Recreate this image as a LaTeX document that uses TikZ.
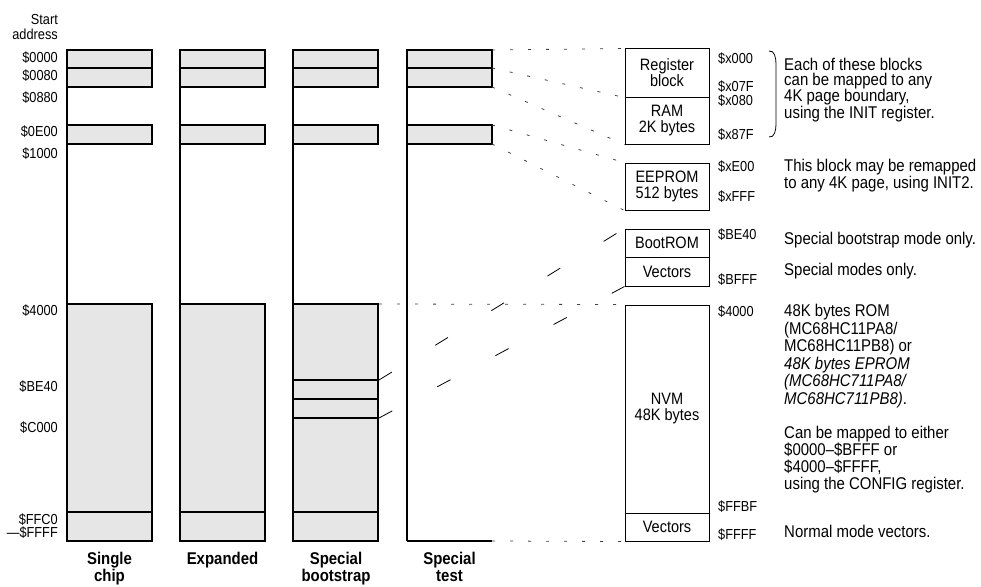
\documentclass[tikz,border=0pt]{standalone}
\usepackage{fontspec}
\setmainfont{Liberation Sans}[FakeStretch=0.88]
\definecolor{blockgray}{HTML}{E6E6E6}

\begin{document}
\begin{tikzpicture}[
        x=1pt, y=-1pt,
        every node/.style={inner sep=0pt, font=\fontsize{14.5}{14.5}\selectfont},
        col/.style={line width=1.1pt},
        blk/.style={col, fill=blockgray},
        mapbox/.style={draw, line width=1pt, minimum width=84pt, align=center, font=\fontsize{16.5}{16}\selectfont},
        adr/.style={anchor=east},
        radr/.style={anchor=west},
        note/.style={anchor=west, align=left, font=\fontsize{17}{17}\selectfont},
        mode/.style={anchor=north, align=center, font=\bfseries\fontsize{17}{17}\selectfont},
        dots/.style={line width=0.8pt, dash pattern=on 3pt off 15pt, black!75},
        slash/.style={line width=0.8pt, dash pattern=on 15pt off 51pt},
    ]
    \useasboundingbox (0,0) rectangle (981,586);

    % memory columns
    \foreach \cx in {67,180,293,407} {
        \draw[col] (\cx,50) -- (\cx,541);
        \draw[blk] (\cx,50) rectangle (\cx+85,68);
        \draw[blk] (\cx,68) rectangle (\cx+85,87);
        \draw[blk] (\cx,125) rectangle (\cx+85,144);
    }
    \foreach \cx in {67,180,293} {
        \draw[blk] (\cx,304) rectangle (\cx+85,541);
        \draw[col] (\cx,512) -- (\cx+85,512);
    }
    \draw[col] (293,380) -- (378,380);
    \draw[col] (293,399) -- (378,399);
    \draw[col] (293,418) -- (378,418);
    \draw[col] (407,541) -- (492,541);

    \coordinate (t1) at (492,50);
    \coordinate (t2) at (492,68);
    \coordinate (t3) at (492,87);
    \coordinate (t4) at (492,125);
    \coordinate (t5) at (492,144);
    \coordinate (t6) at (492,541);
    \coordinate (b1) at (379,380);
    \coordinate (b2) at (379,418);
    \coordinate (b3) at (379,304);

    % start addresses
    \node[adr, align=right] (start) at (58,27) {Start\\address};
    \node[adr] (a0000) at (58,58) {\$0000};
    \node[adr] (a0080) at (58,76) {\$0080};
    \node[adr] (a0880) at (58,98) {\$0880};
    \node[adr] (a0E00) at (58,132) {\$0E00};
    \node[adr] (a1000) at (58,154) {\$1000};
    \node[adr] (a4000) at (58,311) {\$4000};
    \node[adr] (aBE40) at (58,387) {\$BE40};
    \node[adr] (aC000) at (58,428) {\$C000};
    \node[adr] (aFFC0) at (58,520) {\$FFC0};
    \node[adr] (aFFFF) at (58,533) {—\$FFFF};

    % modes
    \node[mode] (single) at (109.5,552) {Single\\chip};
    \node[mode] (expanded) at (222.5,552) {Expanded};
    \node[mode] (bootstrap) at (336,552) {Special\\bootstrap};
    \node[mode] (test) at (449.5,552) {Special\\test};

    % map blocks
    \node[mapbox, minimum height=48pt] (reg) at (667,73) {Register\\block};
    \node[mapbox, minimum height=47pt] (ram) at (667,120.5) {RAM\\2K bytes};
    \node[mapbox, minimum height=47pt] (eeprom) at (667,186.5) {EEPROM\\512 bytes};
    \node[mapbox, minimum height=28pt] (boot) at (667,243) {BootROM};
    \node[mapbox, minimum height=29pt] (bvec) at (667,271.5) {Vectors};
    \node[mapbox, minimum height=208pt] (nvm) at (667,409) {NVM\\48K bytes};
    \node[mapbox, minimum height=28pt] (nvec) at (667,527) {Vectors};

    \draw[dots] (t1) -- (reg.north west);
    \draw[dots] (t2) -- (reg.south west);
    \draw[dots] (t3) -- (ram.south west);
    \draw[dots] (t4) -- (eeprom.north west);
    \draw[dots] (t5) -- (eeprom.south west);
    \draw[dots] (t6) -- (nvec.south west);
    \draw[dots] (b3) -- (nvm.north west);
    \draw[slash] (b1) -- (boot.north west);
    \draw[slash] (b2) -- (bvec.south west);

    % block addresses
    \node[radr] (x000) at (718,59) {\$x000};
    \node[radr] (x07F) at (718,87) {\$x07F};
    \node[radr] (x080) at (718,101) {\$x080};
    \node[radr] (x87F) at (718,135) {\$x87F};
    \node[radr] (xE00) at (718,167) {\$xE00};
    \node[radr] (xFFF) at (718,197) {\$xFFF};
    \node[radr] (rBE40) at (718,235) {\$BE40};
    \node[radr] (rBFFF) at (718,280) {\$BFFF};
    \node[radr] (r4000) at (718,312) {\$4000};
    \node[radr] (rFFBF) at (718,507) {\$FFBF};
    \node[radr] (rFFFF) at (718,535) {\$FFFF};

    \draw[line width=0.8pt] (769,51) to[out=10,in=90] (776,64) -- (776,124) to[out=-90,in=-10] (769,137);

    % notes
    \node[note, font=\fontsize{17}{15}\selectfont] (blocksnote) at (784,90) {Each of these blocks\\can be mapped to any\\4K page boundary,\\using the INIT register.};
    \node[note] (eepnote) at (784,175.5) {This block may be remapped\\to any 4K page, using INIT2.};
    \node[note] (bootnote) at (784,240) {Special bootstrap mode only.};
    \node[note] (vecnote) at (784,271) {Special modes only.};
    \node[note, font=\fontsize{17}{17.5}\selectfont] (nvmnote) at (784,356) {48K bytes ROM\\(MC68HC11PA8/\\MC68HC11PB8) or\\\textit{48K bytes EPROM}\\\textit{(MC68HC711PA8/}\\\textit{MC68HC711PB8)}.};
    \node[note] (cfgnote) at (784,460) {Can be mapped to either\\\$0000–\$BFFF or\\\$4000–\$FFFF,\\using the CONFIG register.};
    \node[note] (nvecnote) at (784,531) {Normal mode vectors.};

\end{tikzpicture}
\end{document}
